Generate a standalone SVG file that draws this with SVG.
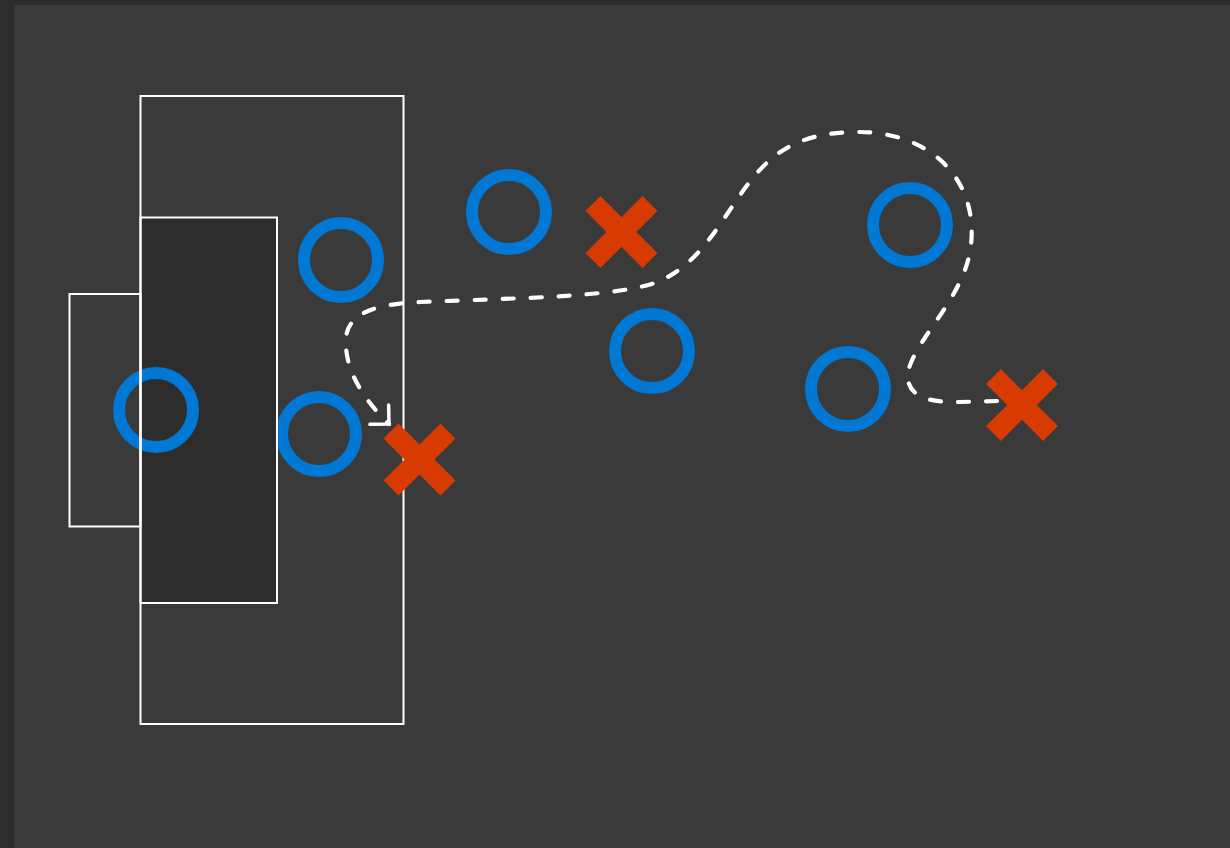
<svg xmlns="http://www.w3.org/2000/svg" width="1230" height="848" viewBox="0 0 1230 848">
  <style>
    .line { fill: none; stroke: #ffffff; stroke-width: 2; }
    .player { fill: none; stroke: #0078d4; stroke-width: 12; }
    .opp line { stroke: #d83b01; stroke-width: 21; stroke-linecap: butt; }
    .run { fill: none; stroke: #ffffff; stroke-width: 4.2; stroke-linecap: round; stroke-dasharray: 11 17; }
  </style>
  <defs>
    <marker id="chevron" markerUnits="userSpaceOnUse" orient="auto" viewBox="-16 -16 20 32" markerWidth="20" markerHeight="32" refX="0" refY="0" overflow="visible">
      <path d="M -13.5 -13.5 L 0 0 L -13.5 13.5" fill="none" stroke="#ffffff" stroke-width="3.5" stroke-linecap="round" stroke-linejoin="miter"/>
    </marker>
  </defs>

  <!-- canvas -->
  <rect x="0" y="0" width="1230" height="848" fill="#2d2d2d"/>
  <rect x="14" y="5" width="1216" height="843" fill="#3a3a3a"/>

  <!-- pitch areas -->
  <g id="pitch-fill">
    <rect x="140.5" y="217.5" width="136.5" height="385.5" fill="#2d2d2d"/>
  </g>

  <!-- own players -->
  <g id="player-1"><circle class="player" cx="156" cy="410" r="37"/></g>
  <g id="player-2"><circle class="player" cx="341" cy="260" r="37"/></g>
  <g id="player-3"><circle class="player" cx="319" cy="434" r="37"/></g>
  <g id="player-4"><circle class="player" cx="509" cy="212" r="37"/></g>
  <g id="player-5"><circle class="player" cx="652" cy="351" r="37"/></g>
  <g id="player-6"><circle class="player" cx="910" cy="225" r="37"/></g>
  <g id="player-7"><circle class="player" cx="848" cy="389" r="37"/></g>

  <!-- pitch markings -->
  <g id="pitch-lines">
    <rect class="line" x="140.5" y="96" width="263" height="628"/>
    <rect class="line" x="140.5" y="217.5" width="136.5" height="385.5"/>
    <rect class="line" x="69.5" y="294" width="71" height="232.5"/>
  </g>

  <!-- opponents -->
  <g id="opponent-1" class="opp">
    <line x1="593" y1="203.5" x2="650" y2="260.5"/>
    <line x1="593" y1="260.5" x2="650" y2="203.5"/>
  </g>
  <g id="opponent-2" class="opp">
    <line x1="391" y1="431" x2="448" y2="488"/>
    <line x1="391" y1="488" x2="448" y2="431"/>
  </g>
  <g id="opponent-3" class="opp">
    <line x1="993.5" y1="376.5" x2="1050.5" y2="433.5"/>
    <line x1="993.5" y1="433.5" x2="1050.5" y2="376.5"/>
  </g>

  <!-- run path -->
  <g id="connectors">
    <path class="run" marker-end="url(#chevron)" d="M 997 401 L 960 402 C 928 403 905 396 908 372 C 912 352 935 325 950 300 C 965 275 976 250 970 213 C 962 168 922 132 858 132 C 790 132 765 160 740 195 C 712 236 696 264 660 281 C 622 297 520 298 420 302 C 378 304 348 312 346 338 C 344 368 362 398 389 424"/>
  </g>
</svg>
